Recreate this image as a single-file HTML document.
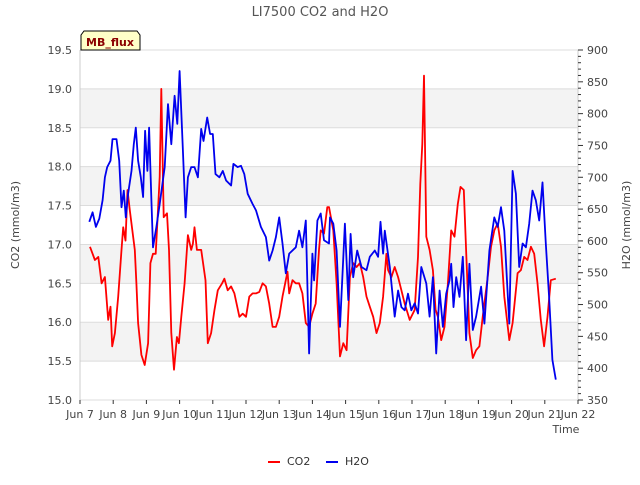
<!DOCTYPE html>
<html><head><meta charset="utf-8"><style>
body{margin:0;background:#fff;font-family:"Liberation Sans","DejaVu Sans",sans-serif}
svg text{font-family:"DejaVu Sans","Liberation Sans",sans-serif}
</style></head><body>
<svg id="c" width="640" height="480" xmlns="http://www.w3.org/2000/svg"></svg>
<script>
const co2T=[0.30,0.45,0.55,0.65,0.75,0.85,0.92,0.97,1.05,1.15,1.25,1.30,1.37,1.43,1.50,1.65,1.70,1.75,1.85,1.95,2.05,2.12,2.20,2.28,2.35,2.40,2.45,2.52,2.62,2.68,2.75,2.83,2.92,2.98,3.05,3.15,3.25,3.35,3.40,3.45,3.52,3.65,3.78,3.85,3.95,4.05,4.15,4.28,4.35,4.45,4.55,4.65,4.80,4.90,5.00,5.10,5.20,5.30,5.40,5.50,5.60,5.70,5.80,5.90,6.00,6.10,6.20,6.25,6.30,6.40,6.50,6.60,6.70,6.80,6.90,7.00,7.10,7.20,7.25,7.35,7.45,7.50,
7.63,7.73,7.83,7.93,8.03,8.13,8.23,8.33,8.43,8.53,8.63,8.73,8.83,8.93,9.03,9.13,9.23,9.28,9.38,9.48,9.58,9.68,9.78,9.93,10.08,10.18,10.25,10.31,10.36,10.43,10.53,10.63,10.71,10.78,10.88,10.98,11.08,11.18,11.28,11.38,11.46,11.56,11.63,11.73,11.83,11.93,12.03,12.13,12.28,12.38,12.48,12.58,12.68,12.78,12.93,13.03,13.18,13.28,13.38,13.48,13.58,13.68,13.78,13.88,13.98,14.08,14.18,14.33];
const co2V=[16.97,16.80,16.84,16.50,16.58,16.03,16.20,15.69,15.86,16.33,16.93,17.22,17.05,17.70,17.44,16.93,16.50,15.99,15.58,15.45,15.73,16.76,16.88,16.88,17.44,17.87,19.00,17.35,17.40,16.93,15.86,15.39,15.81,15.73,16.07,16.50,17.12,16.93,17.01,17.22,16.93,16.93,16.54,15.73,15.86,16.16,16.41,16.50,16.56,16.41,16.46,16.37,16.07,16.11,16.07,16.33,16.37,16.37,16.39,16.50,16.46,16.24,15.94,15.94,16.07,16.33,16.54,16.65,16.37,16.54,16.50,16.50,16.37,15.99,15.94,16.11,16.24,16.93,17.18,17.14,17.48,17.48,
17.18,16.50,15.56,15.73,15.64,16.58,16.76,16.71,16.76,16.58,16.33,16.20,16.07,15.86,15.99,16.33,16.88,16.67,16.58,16.71,16.58,16.41,16.24,16.03,16.16,16.84,17.78,18.29,19.17,17.10,16.93,16.67,16.16,16.07,15.77,15.94,16.50,17.18,17.10,17.52,17.74,17.70,16.93,15.86,15.54,15.64,15.69,16.07,16.58,16.97,17.18,17.27,16.97,16.33,15.77,15.99,16.63,16.67,16.84,16.80,16.97,16.88,16.50,16.03,15.69,16.07,16.54,16.56];
const h2oT=[0.28,0.38,0.48,0.58,0.68,0.75,0.82,0.92,0.98,1.10,1.18,1.25,1.32,1.38,1.45,1.55,1.62,1.68,1.75,1.83,1.90,1.96,2.03,2.08,2.15,2.20,2.30,2.40,2.55,2.65,2.75,2.85,2.93,3.00,3.10,3.18,3.25,3.35,3.45,3.55,3.65,3.72,3.83,3.92,4.00,4.08,4.20,4.30,4.40,4.55,4.62,4.75,4.85,4.95,5.05,5.20,5.30,5.45,5.60,5.70,5.80,5.90,6.00,6.10,6.20,6.30,6.50,6.60,6.70,6.80,6.90,7.00,7.05,7.15,7.25,7.35,7.50,
7.53,7.63,7.73,7.83,7.98,8.08,8.15,8.23,8.35,8.48,8.63,8.73,8.88,8.98,9.05,9.13,9.18,9.33,9.48,9.58,9.68,9.78,9.88,9.98,10.08,10.18,10.28,10.43,10.53,10.63,10.73,10.83,10.93,11.03,11.13,11.18,11.25,11.33,11.43,11.53,11.63,11.73,11.83,11.93,12.08,12.18,12.33,12.48,12.58,12.68,12.78,12.93,13.03,13.13,13.23,13.33,13.43,13.53,13.63,13.73,13.83,13.93,14.03,14.13,14.23,14.33];
const h2oV=[630,645,622,635,664,700,716,726,760,760,726,653,679,637,674,710,752,778,726,700,669,773,710,778,664,590,622,658,716,815,752,828,784,867,742,637,700,716,716,700,776,757,794,768,768,705,700,710,695,687,721,716,718,705,674,658,648,622,606,569,585,606,637,596,549,580,590,616,590,632,423,580,538,632,643,601,596,
637,627,585,465,627,507,611,543,585,559,554,575,585,575,630,580,616,559,481,522,496,491,517,491,502,486,559,533,481,543,423,522,465,517,538,564,496,543,512,575,444,564,460,481,528,470,585,637,622,653,616,470,710,674,559,596,590,627,679,664,632,692,596,512,413,382];
const yLeftTicks=["15.0","15.5","16.0","16.5","17.0","17.5","18.0","18.5","19.0","19.5"];
const yRightTicks=["350","400","450","500","550","600","650","700","750","800","850","900"];
const xTicks=["Jun 7","Jun 8","Jun 9","Jun 10","Jun 11","Jun 12","Jun 13","Jun 14","Jun 15","Jun 16","Jun 17","Jun 18","Jun 19","Jun 20","Jun 21","Jun 22"];

const L=80,R=578,T=50,B=400;
const sx=d=>L+d*(R-L)/15;
const sy=v=>B-(v-15)*(B-T)/4.5;
const sy2=v=>B-(v-350)*(B-T)/550;
const svg=document.getElementById('c');
const NS="http://www.w3.org/2000/svg";
function el(tag,attrs,parent){const e=document.createElementNS(NS,tag);for(const k in attrs)e.setAttribute(k,attrs[k]);(parent||svg).appendChild(e);return e;}
function txt(s,attrs){const e=el('text',attrs);e.textContent=s;return e;}

// bands and grid
for(let i=0;i<9;i++){
  if(i%2===1){const b=el('rect',{x:L,y:sy(15+(i+1)*0.5),width:R-L,height:sy(15)-sy(0.5+15),fill:'#f3f3f3'});
  
  }
}
yLeftTicks.forEach((t,i)=>{const v=parseFloat(t);
  const g=el('line',{x1:L,x2:R,y1:sy(v),y2:sy(v),stroke:'#dcdcdc','stroke-width':1});
  
  
  const lb=txt(t,{x:L-8,y:sy(v)+4,'text-anchor':'end','font-size':11,fill:'#444'});
  
  
});
el('line',{x1:L,x2:L,y1:T,y2:B,stroke:'#ccc'});
el('line',{x1:R,x2:R,y1:T,y2:B,stroke:'#ccc'});
yRightTicks.forEach(t=>{const v=parseFloat(t);
  const lb=txt(t,{x:R+9,y:sy2(v)+4,'font-size':11,fill:'#444'});
  
  
});
for(let v=350;v<=900;v+=10){el('line',{x1:R,x2:R+(v%50===0?5:3),y1:sy2(v),y2:sy2(v),stroke:'#333'});}
xTicks.forEach((t,i)=>{
  el('line',{x1:sx(i),x2:sx(i),y1:B,y2:B+4,stroke:'#333'});
  const lb=txt(t,{x:sx(i),y:B+18,'text-anchor':'middle','font-size':11,fill:'#444'});
  
  
});
function line(ts,vs,f,col,name){
  const p=el('polyline',{points:ts.map((t,i)=>sx(t).toFixed(1)+','+f(vs[i]).toFixed(1)).join(' '),fill:'none',stroke:col,'stroke-width':1.8,'stroke-linejoin':'round'});
  
  
}
line(co2T,co2V,sy,'#ff0000','co2-line');
line(h2oT,h2oV,sy2,'#0000ee','h2o-line');

let e;
e=txt('LI7500 CO2 and H2O',{x:320,y:16,'text-anchor':'middle','font-size':13,fill:'#555'});

e=txt('Time',{x:566,y:433,'text-anchor':'middle','font-size':11,fill:'#444'});

e=txt('CO2 (mmol/m3)',{x:0,y:0,transform:'translate(19,225) rotate(-90)','text-anchor':'middle','font-size':11,fill:'#444'});

e=txt('H2O (mmol/m3)',{x:0,y:0,transform:'translate(630,225) rotate(-90)','text-anchor':'middle','font-size':11,fill:'#444'});


e=el('path',{d:'M81,50 L81,35 L84,31 L137,31 L140,35 L140,50 Z',fill:'#ffffc8',stroke:'#000','stroke-width':1});

e=txt('MB_flux',{x:110,y:46,'text-anchor':'middle','font-size':11,'font-weight':'bold',fill:'#8b0000'});


e=el('line',{x1:268,x2:280,y1:462,y2:462,stroke:'#ff0000','stroke-width':2});

e=txt('CO2',{x:287,y:465,'font-size':11,fill:'#333'});

e=el('line',{x1:326,x2:338,y1:462,y2:462,stroke:'#0000ee','stroke-width':2});

e=txt('H2O',{x:345,y:465,'font-size':11,fill:'#333'});

</script>
</body></html>
